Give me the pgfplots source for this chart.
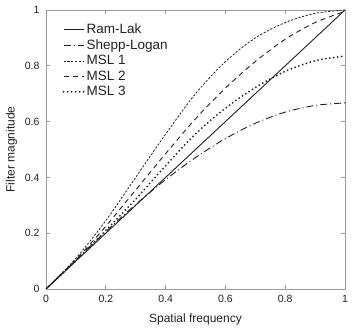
\documentclass[border=0pt]{standalone}
\usepackage{pgfplots}
\pgfplotsset{compat=1.18}
\usepackage{fontspec}
\setmainfont{Liberation Sans}
\definecolor{framegray}{HTML}{9A9A9A}
\definecolor{ink}{HTML}{202020}
\begin{document}
\begin{tikzpicture}[x=1pt,y=1pt]
\begin{axis}[
  scale only axis,
  width=299pt, height=279pt,
  xmin=0, xmax=1, ymin=0, ymax=1,
  xtick={0,0.2,0.4,0.6,0.8,1},
  ytick={0,0.2,0.4,0.6,0.8,1},
  xticklabels={0,0.2,0.4,0.6,0.8,1},
  yticklabels={0,0.2,0.4,0.6,0.8,1},
  tick align=inside,
  major tick length=4pt,
  axis line style={framegray, line width=0.8pt},
  every tick/.style={framegray, line width=0.6pt},
  tick label style={font=\fontsize{10.5}{12}\selectfont, text=ink},
  /pgf/number format/assume math mode=true,
  xticklabel style={yshift=-3pt},
  yticklabel style={xshift=-3pt},
  xlabel={Spatial frequency},
  ylabel={Filter magnitude},
  label style={font=\fontsize{12}{14}\selectfont, text=ink},
  xlabel style={yshift=-4pt},
  ylabel style={yshift=1pt},
  legend style={draw=none, fill=none, at={(0.045,0.965)}, anchor=north west,
    font=\fontsize{13.5}{15}\selectfont, text=ink, row sep=0.5pt,
    legend cell align=left},
  legend image code/.code={\draw[#1] (0pt,0pt) -- (20pt,0pt);},
]
\addplot[ink, line width=0.9pt] coordinates {(0,0) (1,1)};
\addlegendentry{Ram-Lak}
\addplot[ink, line width=0.9pt, smooth, dash pattern=on 7pt off 3pt on 1pt off 3pt] coordinates {
(0,0) (0.1,0.104) (0.2,0.206) (0.3,0.303) (0.4,0.392) (0.5,0.471) (0.6,0.539) (0.7,0.594) (0.8,0.634) (0.9,0.658) (1.0,0.667)};
\addlegendentry{Shepp-Logan}
\addplot[ink, line width=0.8pt, smooth, dash pattern=on 2.2pt off 1.6pt] coordinates {
(0,0) (0.1,0.11) (0.2,0.245) (0.3,0.40) (0.4,0.555) (0.5,0.70) (0.6,0.815) (0.7,0.90) (0.8,0.955) (0.9,0.988) (1.0,1.0)};
\addlegendentry{MSL 1}
\addplot[ink, line width=0.9pt, smooth, dash pattern=on 5pt off 4pt] coordinates {
(0,0) (0.1,0.105) (0.2,0.225) (0.3,0.355) (0.4,0.485) (0.5,0.61) (0.6,0.72) (0.7,0.815) (0.8,0.895) (0.9,0.955) (1.0,0.995)};
\addlegendentry{MSL 2}
\addplot[ink, line width=2pt, smooth, line cap=round, dash pattern=on 0pt off 4pt] coordinates {
(0,0) (0.1,0.102) (0.2,0.21) (0.3,0.322) (0.4,0.442) (0.5,0.556) (0.6,0.648) (0.7,0.722) (0.8,0.78) (0.9,0.818) (1.0,0.835)};
\addlegendentry{MSL 3}
\end{axis}
\path[use as bounding box] (-46pt,-35pt) rectangle (313pt,289pt);
\end{tikzpicture}
\end{document}
